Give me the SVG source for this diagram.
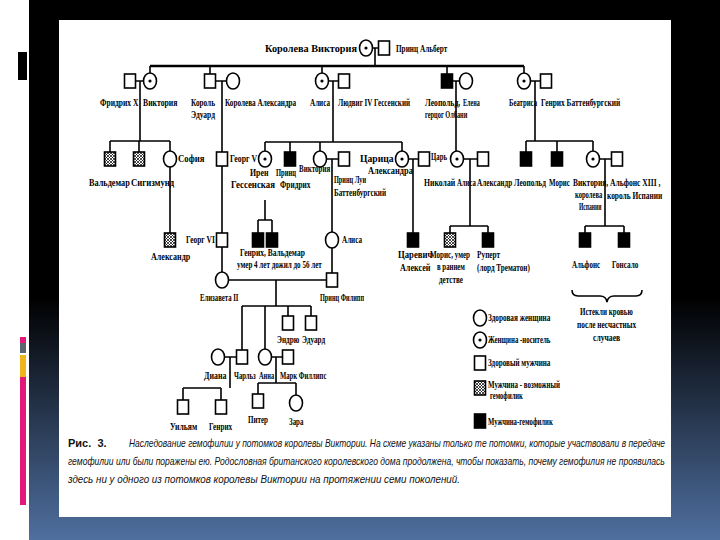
<svg xmlns="http://www.w3.org/2000/svg" width="720" height="540" viewBox="0 0 720 540">
<defs>
<linearGradient id="bg" x1="0" y1="0" x2="0" y2="1">
<stop offset="0" stop-color="#000"/>
<stop offset="0.55" stop-color="#000"/>
<stop offset="1" stop-color="#4f6f9f"/>
</linearGradient>
<pattern id="hatch" width="3" height="3" patternUnits="userSpaceOnUse">
<rect width="3" height="3" fill="#fff"/>
<path d="M0,0 L3,3 M3,0 L0,3" stroke="#000" stroke-width="0.7"/>
</pattern>
<style>
.ln{stroke:#000;stroke-width:1.6;fill:none}
.thick{stroke:#000;stroke-width:2.6;fill:none}
.s{fill:#fff;stroke:#000;stroke-width:1.6}
.a{fill:#000;stroke:#000;stroke-width:1.6}
.h{fill:url(#hatch);stroke:#000;stroke-width:1.6}
.d{fill:#000}
.t{font-family:"Liberation Serif",serif;font-weight:bold;font-size:10px;fill:#000}
.big{font-size:11px}
.cap{font-family:"Liberation Sans",sans-serif;font-style:italic;font-size:11px;fill:#111}
</style>
</defs>
<rect width="720" height="540" fill="#fff"/>
<rect x="29" y="0" width="691" height="540" fill="url(#bg)"/>
<rect x="18" y="52" width="9" height="28" fill="#000"/>
<rect x="20" y="337" width="6" height="6" fill="#e2187a"/>
<rect x="20" y="343" width="6" height="10" fill="#5c6670"/>
<rect x="20" y="355" width="6" height="22" fill="#f0b41c"/>
<rect x="20" y="377" width="6" height="128" fill="#e2187a"/>
<rect x="59" y="20" width="612" height="497" fill="#fff"/>

<g id="connectors">
<path class="ln" d="M372,48 H378 M375,48 V66"/>
<path class="thick" d="M150,66 H524"/>
<path class="ln" d="M150,66 V73 M210,66 V74 M322,66 V73 M447,66 V74 M524,66 V73"/>
<path class="ln" d="M135,81 H144 M140,81 V141 M110,141 H170 M110,141 V152 M139,141 V152 M170,141 V151"/>
<path class="ln" d="M170,167 V233"/>
<path class="ln" d="M215,81 H227 M222,81 V152 M222,166 V233 M222,247 V272"/>
<path class="ln" d="M328,81 H339 M333,81 V142 M265,142 H402 M265,142 V151 M290,142 V152 M320,142 V151 M402,142 V151"/>
<path class="ln" d="M265,200 V220 M258,220 H272 M258,220 V233 M272,220 V233"/>
<path class="ln" d="M326,159 H339 M332,159 V232 M332,248 V273"/>
<path class="ln" d="M408,159 H418 M413,159 V233"/>
<path class="ln" d="M452,81 H460 M456,81 V151"/>
<path class="ln" d="M463,159 H477 M470,159 V226 M450,226 H488 M450,226 V233 M488,226 V233"/>
<path class="ln" d="M530,81 H540 M535,81 V141 M526,141 H593 M526,141 V152 M557,141 V152 M593,141 V151"/>
<path class="ln" d="M599,159 H612 M605,159 V226 M585,226 H624 M585,226 V233 M624,226 V233"/>
<path class="ln" d="M228,280 H327 M276,280 V306 M242,306 H311 M242,306 V350 M265,306 V349 M288,306 V316 M311,306 V316"/>
<path class="ln" d="M224,357 H237 M230,357 V388 M183,388 H221 M183,388 V400 M221,388 V400"/>
<path class="ln" d="M271,357 H283 M276,357 V383 M258,383 H296 M258,383 V394 M296,383 V395"/>
<path class="ln" d="M572,290 Q572,296 578,296 H600 Q606,296 607,302 Q608,296 614,296 H636 Q642,296 642,290"/>
</g>

<g id="victoria"><ellipse class="s" cx="366" cy="48" rx="6.5" ry="8"/><circle class="d" cx="366" cy="48" r="1.6"/><text class="t big" transform="translate(265 52) scale(.8 1)" textLength="115" lengthAdjust="spacingAndGlyphs">Королева Виктория</text></g>
<g id="albert"><rect class="s" x="378.5" y="41" width="11" height="14"/><text class="t big" transform="translate(396 52) scale(.8 1)" textLength="64" lengthAdjust="spacingAndGlyphs">Принц Альберт</text></g>

<g id="frederik"><rect class="s" x="124.5" y="74" width="11" height="14"/><text class="t" transform="translate(100 106) scale(.8 1)" textLength="48" lengthAdjust="spacingAndGlyphs">Фридрих X</text></g>
<g id="victoria2"><ellipse class="s" cx="150" cy="81" rx="6.5" ry="8"/><circle class="d" cx="150" cy="81" r="1.6"/><text class="t" transform="translate(143 106) scale(.8 1)" textLength="43" lengthAdjust="spacingAndGlyphs">Виктория</text></g>
<g id="edward"><rect class="s" x="204.5" y="74" width="11" height="14"/><text class="t" transform="translate(191 106) scale(.8 1)" textLength="30" lengthAdjust="spacingAndGlyphs">Король</text><text class="t" transform="translate(191 118) scale(.8 1)" textLength="30" lengthAdjust="spacingAndGlyphs">Эдуард</text></g>
<g id="alexandra"><ellipse class="s" cx="233" cy="81" rx="6.5" ry="8"/><text class="t" transform="translate(225 106) scale(.8 1)" textLength="89" lengthAdjust="spacingAndGlyphs">Королева Александра</text></g>
<g id="alice"><ellipse class="s" cx="322" cy="81" rx="6.5" ry="8"/><circle class="d" cx="322" cy="81" r="1.6"/><text class="t" transform="translate(310 106) scale(.8 1)" textLength="25" lengthAdjust="spacingAndGlyphs">Алиса</text></g>
<g id="ludwig"><rect class="s" x="338.5" y="74" width="11" height="14"/><text class="t" transform="translate(338 106) scale(.8 1)" textLength="90" lengthAdjust="spacingAndGlyphs">Людвиг IV Гессенский</text></g>
<g id="leopold"><rect class="a" x="441.5" y="74" width="11" height="14"/><text class="t" transform="translate(425 106) scale(.8 1)" textLength="44" lengthAdjust="spacingAndGlyphs">Леопольд,</text><text class="t" transform="translate(425 118) scale(.8 1)" textLength="53" lengthAdjust="spacingAndGlyphs">герцог Олбани</text></g>
<g id="elena"><ellipse class="s" cx="466" cy="81" rx="6.5" ry="8"/><text class="t" transform="translate(463 106) scale(.8 1)" textLength="21" lengthAdjust="spacingAndGlyphs">Елена</text></g>
<g id="beatrice"><ellipse class="s" cx="524" cy="81" rx="6.5" ry="8"/><circle class="d" cx="524" cy="81" r="1.6"/><text class="t" transform="translate(509 106) scale(.8 1)" textLength="35" lengthAdjust="spacingAndGlyphs">Беатриса</text></g>
<g id="henry"><rect class="s" x="540.5" y="74" width="11" height="14"/><text class="t" transform="translate(541 106) scale(.8 1)" textLength="99" lengthAdjust="spacingAndGlyphs">Генрих Баттенбургский</text></g>

<g id="waldemar"><rect class="h" x="104.5" y="152" width="11" height="14"/><text class="t" transform="translate(89 186) scale(.8 1)" textLength="51" lengthAdjust="spacingAndGlyphs">Вальдемар</text></g>
<g id="sigismund"><rect class="h" x="133.5" y="152" width="11" height="14"/><text class="t" transform="translate(131 186) scale(.8 1)" textLength="54" lengthAdjust="spacingAndGlyphs">Сигизмунд</text></g>
<g id="sophie"><ellipse class="s" cx="170" cy="159" rx="6.5" ry="8"/><text class="t" transform="translate(178 162) scale(.8 1)" textLength="33" lengthAdjust="spacingAndGlyphs">София</text></g>
<g id="alexander"><rect class="h" x="164.5" y="233" width="11" height="14"/><text class="t" transform="translate(151 260) scale(.8 1)" textLength="49" lengthAdjust="spacingAndGlyphs">Александр</text></g>
<g id="george5"><rect class="s" x="216.5" y="152" width="11" height="14"/><text class="t" transform="translate(230 162) scale(.8 1)" textLength="34" lengthAdjust="spacingAndGlyphs">Георг V</text></g>
<g id="george6"><rect class="s" x="216.5" y="233" width="11" height="14"/><text class="t" transform="translate(186 243) scale(.8 1)" textLength="36" lengthAdjust="spacingAndGlyphs">Георг VI</text></g>
<g id="irene"><ellipse class="s" cx="265" cy="159" rx="6.5" ry="8"/><circle class="d" cx="265" cy="159" r="1.6"/><text class="t" transform="translate(250 176) scale(.8 1)" textLength="23" lengthAdjust="spacingAndGlyphs">Ирен</text><text class="t" transform="translate(231 188) scale(.8 1)" textLength="55" lengthAdjust="spacingAndGlyphs">Гессенская</text></g>
<g id="friedrich"><rect class="a" x="284.5" y="152" width="11" height="14"/><text class="t" transform="translate(276 176) scale(.8 1)" textLength="25" lengthAdjust="spacingAndGlyphs">Принц</text><text class="t" transform="translate(280 188) scale(.8 1)" textLength="38" lengthAdjust="spacingAndGlyphs">Фридрих</text></g>
<g id="victoria3"><ellipse class="s" cx="320" cy="159" rx="6.5" ry="8"/><text class="t" transform="translate(299 172) scale(.8 1)" textLength="39" lengthAdjust="spacingAndGlyphs">Виктория</text></g>
<g id="louis"><rect class="s" x="338.5" y="152" width="11" height="14"/><text class="t" transform="translate(334 183) scale(.8 1)" textLength="40" lengthAdjust="spacingAndGlyphs">Принц Луи</text><text class="t" transform="translate(334 196) scale(.8 1)" textLength="65" lengthAdjust="spacingAndGlyphs">Баттенбургский</text></g>
<g id="tsarina"><ellipse class="s" cx="402" cy="159" rx="6.5" ry="8"/><circle class="d" cx="402" cy="159" r="1.6"/><text class="t" transform="translate(360 162) scale(.8 1)" textLength="42" lengthAdjust="spacingAndGlyphs">Царица</text><text class="t" transform="translate(368 174) scale(.8 1)" textLength="56" lengthAdjust="spacingAndGlyphs">Александра</text></g>
<g id="nicholas"><rect class="s" x="418.5" y="152" width="11" height="14"/><text class="t" transform="translate(431 160) scale(.8 1)" textLength="20" lengthAdjust="spacingAndGlyphs">Царь</text><text class="t" transform="translate(424 186) scale(.8 1)" textLength="39" lengthAdjust="spacingAndGlyphs">Николай</text></g>
<g id="alice2"><ellipse class="s" cx="457" cy="159" rx="6.5" ry="8"/><circle class="d" cx="457" cy="159" r="1.6"/><text class="t" transform="translate(457 186) scale(.7 1)" textLength="27" lengthAdjust="spacingAndGlyphs">Алиса</text></g>
<g id="alexander2"><rect class="s" x="477.5" y="152" width="11" height="14"/><text class="t" transform="translate(477 186) scale(.8 1)" textLength="44" lengthAdjust="spacingAndGlyphs">Александр</text></g>
<g id="leopold2"><rect class="a" x="520.5" y="152" width="11" height="14"/><text class="t" transform="translate(514 186) scale(.8 1)" textLength="40" lengthAdjust="spacingAndGlyphs">Леопольд</text></g>
<g id="maurice"><rect class="a" x="551.5" y="152" width="11" height="14"/><text class="t" transform="translate(549 186) scale(.8 1)" textLength="26" lengthAdjust="spacingAndGlyphs">Морис</text></g>
<g id="victoria4"><ellipse class="s" cx="593" cy="159" rx="6.5" ry="8"/><circle class="d" cx="593" cy="159" r="1.6"/><text class="t" transform="translate(573 186) scale(.8 1)" textLength="44" lengthAdjust="spacingAndGlyphs">Виктория,</text><text class="t" transform="translate(575 198) scale(.8 1)" textLength="34" lengthAdjust="spacingAndGlyphs">королева</text><text class="t" transform="translate(579 210) scale(.8 1)" textLength="28" lengthAdjust="spacingAndGlyphs">Испании</text></g>
<g id="alfonso13"><rect class="s" x="611.5" y="152" width="11" height="14"/><text class="t" transform="translate(610 186) scale(.8 1)" textLength="63" lengthAdjust="spacingAndGlyphs">Альфонс XIII ,</text><text class="t" transform="translate(607 199) scale(.8 1)" textLength="69" lengthAdjust="spacingAndGlyphs">король Испании</text></g>

<g id="henrich"><rect class="a" x="252.5" y="233" width="11" height="14"/><text class="t" transform="translate(240 256) scale(.8 1)" textLength="81" lengthAdjust="spacingAndGlyphs">Генрих, Вальдемар</text><text class="t" transform="translate(237 268) scale(.8 1)" textLength="106" lengthAdjust="spacingAndGlyphs">умер 4 лет  дожил до 56 лет</text></g>
<g id="waldemar2"><rect class="a" x="266.5" y="233" width="11" height="14"/></g>
<g id="alice3"><ellipse class="s" cx="332" cy="240" rx="6.5" ry="8"/><text class="t" transform="translate(342 243) scale(.8 1)" textLength="25" lengthAdjust="spacingAndGlyphs">Алиса</text></g>
<g id="alexei"><rect class="a" x="407.5" y="233" width="11" height="14"/><text class="t" transform="translate(398 258) scale(.8 1)" textLength="43" lengthAdjust="spacingAndGlyphs">Царевич</text><text class="t" transform="translate(400 271) scale(.8 1)" textLength="38" lengthAdjust="spacingAndGlyphs">Алексей</text></g>
<g id="maurice2"><rect class="h" x="444.5" y="233" width="11" height="14"/><text class="t" transform="translate(430 258) scale(.8 1)" textLength="50" lengthAdjust="spacingAndGlyphs">Морис, умер</text><text class="t" transform="translate(437 270) scale(.8 1)" textLength="35" lengthAdjust="spacingAndGlyphs">в раннем</text><text class="t" transform="translate(439 283) scale(.8 1)" textLength="30" lengthAdjust="spacingAndGlyphs">детстве</text></g>
<g id="rupert"><rect class="a" x="482.5" y="233" width="11" height="14"/><text class="t" transform="translate(477 258) scale(.8 1)" textLength="29" lengthAdjust="spacingAndGlyphs">Руперт</text><text class="t" transform="translate(477 271) scale(.8 1)" textLength="66" lengthAdjust="spacingAndGlyphs">(лорд Трематон)</text></g>
<g id="alfonso"><rect class="a" x="579.5" y="233" width="11" height="14"/><text class="t" transform="translate(572 268) scale(.8 1)" textLength="35" lengthAdjust="spacingAndGlyphs">Альфонс</text></g>
<g id="gonzalo"><rect class="a" x="618.5" y="233" width="11" height="14"/><text class="t" transform="translate(612 268) scale(.8 1)" textLength="33" lengthAdjust="spacingAndGlyphs">Гонсало</text></g>
<g id="bled"><text class="t" transform="translate(580 315) scale(.8 1)" textLength="66" lengthAdjust="spacingAndGlyphs">Истекли кровью</text><text class="t" transform="translate(577 328) scale(.8 1)" textLength="74" lengthAdjust="spacingAndGlyphs">после несчастных</text><text class="t" transform="translate(593 341) scale(.8 1)" textLength="34" lengthAdjust="spacingAndGlyphs">случаев</text></g>

<g id="elizabeth"><ellipse class="s" cx="222" cy="280" rx="6.5" ry="8"/><text class="t" transform="translate(200 301) scale(.8 1)" textLength="48" lengthAdjust="spacingAndGlyphs">Елизавета II</text></g>
<g id="philip"><rect class="s" x="326.5" y="273" width="11" height="14"/><text class="t" transform="translate(320 301) scale(.8 1)" textLength="55" lengthAdjust="spacingAndGlyphs">Принц Филипп</text></g>
<g id="andrew"><rect class="s" x="282.5" y="316" width="11" height="14"/><text class="t" transform="translate(277 343) scale(.8 1)" textLength="28" lengthAdjust="spacingAndGlyphs">Эндрю</text></g>
<g id="edward2"><rect class="s" x="305.5" y="316" width="11" height="14"/><text class="t" transform="translate(302 343) scale(.8 1)" textLength="29" lengthAdjust="spacingAndGlyphs">Эдуард</text></g>
<g id="diana"><ellipse class="s" cx="218" cy="357" rx="6.5" ry="8"/><text class="t" transform="translate(204 379) scale(.8 1)" textLength="28" lengthAdjust="spacingAndGlyphs">Диана</text></g>
<g id="charles"><rect class="s" x="236.5" y="350" width="11" height="14"/><text class="t" transform="translate(234 379) scale(.7 1)" textLength="31" lengthAdjust="spacingAndGlyphs">Чарльз</text></g>
<g id="anne"><ellipse class="s" cx="265" cy="357" rx="6.5" ry="8"/><text class="t" transform="translate(259 379) scale(.8 1)" textLength="19" lengthAdjust="spacingAndGlyphs">Анна</text></g>
<g id="mark"><rect class="s" x="282.5" y="350" width="11" height="14"/><text class="t" transform="translate(280 379) scale(.8 1)" textLength="58" lengthAdjust="spacingAndGlyphs">Марк Филлипс</text></g>
<g id="william"><rect class="s" x="177.5" y="400" width="11" height="14"/><text class="t" transform="translate(170 430) scale(.8 1)" textLength="34" lengthAdjust="spacingAndGlyphs">Уильям</text></g>
<g id="harry"><rect class="s" x="215.5" y="400" width="11" height="14"/><text class="t" transform="translate(209 430) scale(.8 1)" textLength="29" lengthAdjust="spacingAndGlyphs">Генрих</text></g>
<g id="peter"><rect class="s" x="252.5" y="394" width="11" height="14"/><text class="t" transform="translate(248 423) scale(.8 1)" textLength="25" lengthAdjust="spacingAndGlyphs">Питер</text></g>
<g id="zara"><ellipse class="s" cx="296" cy="403" rx="6.5" ry="8"/><text class="t" transform="translate(289 425) scale(.8 1)" textLength="18" lengthAdjust="spacingAndGlyphs">Зара</text></g>

<g id="legend">
<ellipse class="s" cx="480" cy="318" rx="6.5" ry="8"/><text class="t" transform="translate(488 321) scale(.8 1)" textLength="78" lengthAdjust="spacingAndGlyphs">Здоровая женщина</text>
<ellipse class="s" cx="480" cy="340" rx="6.5" ry="8"/><circle class="d" cx="480" cy="340" r="1.6"/><text class="t" transform="translate(488 343) scale(.8 1)" textLength="78" lengthAdjust="spacingAndGlyphs">Женщина -носитель</text>
<rect class="s" x="474.5" y="356" width="11" height="14"/><text class="t" transform="translate(488 366) scale(.8 1)" textLength="78" lengthAdjust="spacingAndGlyphs">Здоровый мужчина</text>
<rect class="h" x="474.5" y="381" width="11" height="14"/><text class="t" transform="translate(488 388) scale(.8 1)" textLength="90" lengthAdjust="spacingAndGlyphs">Мужчина - возможный</text><text class="t" transform="translate(490 399) scale(.8 1)" textLength="41" lengthAdjust="spacingAndGlyphs">гемофилик</text>
<rect class="a" x="474.5" y="414" width="11" height="14"/><text class="t" transform="translate(488 425) scale(.8 1)" textLength="81" lengthAdjust="spacingAndGlyphs">Мужчина-гемофилик</text>
</g>

<g id="caption">
<text style="font-family:'Liberation Sans',sans-serif;font-weight:bold;font-size:11px;fill:#111" x="68" y="447">Рис.&#160;&#160;3.</text>
<text class="cap" transform="translate(129 447) scale(.8 1)" textLength="670" lengthAdjust="spacingAndGlyphs">Наследование гемофилии у потомков королевы Виктории. На схеме указаны только те потомки, которые участвовали в передаче</text>
<text class="cap" transform="translate(68 465) scale(.8 1)" textLength="746" lengthAdjust="spacingAndGlyphs">гемофилии или были поражены ею. Родословная британского королевского дома продолжена, чтобы показать, почему гемофилия не проявилась</text>
<text class="cap" transform="translate(68 483) scale(.8 1)" textLength="490" lengthAdjust="spacingAndGlyphs">здесь ни у одного из потомков королевы Виктории на протяжении семи поколений.</text>
</g>
</svg>
